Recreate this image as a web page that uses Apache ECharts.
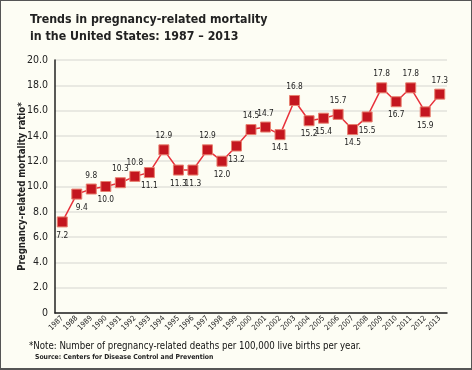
<!DOCTYPE html>
<html><head><meta charset="utf-8">
<script src="https://cdn.jsdelivr.net/npm/echarts@6/dist/echarts.min.js"></script>
<style>
html,body{margin:0;padding:0;background:#fdfdf4;}
#c{width:470px;height:367px;border:1px solid #555;border-bottom-width:2px;}
</style></head>
<body><div id="c"></div>
<script>
var years = ['1987','1988','1989','1990','1991','1992','1993','1994','1995','1996','1997','1998','1999','2000','2001','2002','2003','2004','2005','2006','2007','2008','2009','2010','2011','2012','2013'];
var ratios = [7.2,9.4,9.8,10.0,10.3,10.8,11.1,12.9,11.3,11.3,12.9,12.0,13.2,14.5,14.7,14.1,16.8,15.2,15.4,15.7,14.5,15.5,17.8,16.7,17.8,15.9,17.3];
var labelSide = ['b','b','a','b','a','a','b','a','b','b','a','b','b','a','a','b','a','b','b','a','b','b','a','b','a','b','a'];
var yTicks = [0,2,4,6,8,10,12,14,16,18,20];

var cond = '"DejaVu Sans Condensed","DejaVu Sans",sans-serif';
var chart = echarts.init(document.getElementById('c'));
var data = ratios.map(function(v,i){
  var o = {value:v, label:{position: labelSide[i]==='a'?'top':'bottom'}};
  if(i===1){o.label.offset=[5,0];}
  return o;
});
chart.setOption({
  backgroundColor:'#fdfdf4',
  animation:false,
  title:[{
    text:'Trends in pregnancy-related mortality\nin the United States: 1987 – 2013',
    left:29, top:10, padding:0,
    textStyle:{fontFamily:cond,fontWeight:'bold',fontSize:12.3,lineHeight:17,color:'#222'}
  },{
    text:'*Note: Number of pregnancy-related deaths per 100,000 live births per year.',
    left:28, top:340, padding:0,
    textStyle:{fontFamily:cond,fontWeight:'normal',fontSize:9.6,color:'#111'}
  },{
    text:'Source: Centers for Disease Control and Prevention',
    left:34, top:353, padding:0,
    textStyle:{fontFamily:cond,fontWeight:'bold',fontSize:6.8,color:'#222'}
  }],
  grid:{left:54,right:24,top:59,bottom:55,containLabel:false},
  xAxis:{
    type:'category', data:years, boundaryGap:true,
    axisLine:{lineStyle:{color:'#222',width:1.5}},
    axisTick:{inside:true,length:6,lineStyle:{color:'#999',width:1.5}},
    axisLabel:{rotate:45,fontSize:7.5,fontFamily:cond,color:'#222',margin:4,interval:0}
  },
  yAxis:{
    type:'value', min:yTicks[0], max:yTicks[yTicks.length-1], interval:2,
    name:'Pregnancy-related mortality ratio*', nameLocation:'middle', nameGap:28, nameMoveOverlap:false,
    nameTextStyle:{fontFamily:cond,fontWeight:'bold',fontSize:9.6,color:'#222'},
    axisLine:{show:true,lineStyle:{color:'#222',width:1.5}},
    axisTick:{show:false},
    splitLine:{lineStyle:{color:'#e2e2dc',width:1.5}},
    axisLabel:{fontSize:10.5,fontFamily:cond,color:'#222',margin:7,
      formatter:function(v){return v===0?'0':v.toFixed(1);}}
  },
  series:[{
    type:'line', data:data,
    symbol:'rect', symbolSize:10,
    lineStyle:{color:'#e8323c',width:1.5},
    itemStyle:{color:'#c4161f',borderColor:'#e88070',borderWidth:1},
    label:{show:true,fontSize:8.3,fontFamily:cond,color:'#222',distance:4,
      formatter:function(p){return p.value.toFixed(1);}}
  }]
});
</script></body></html>
